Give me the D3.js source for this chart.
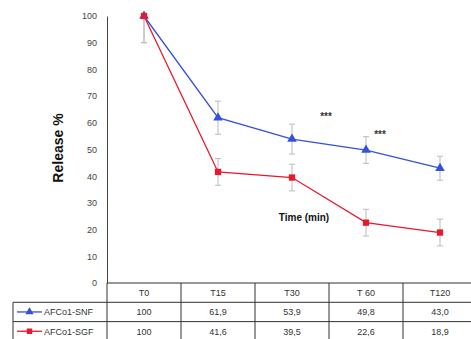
<!DOCTYPE html>
<html>
<head>
<meta charset="utf-8">
<script src="https://cdn.jsdelivr.net/npm/d3@7"></script>
<style>
  body { margin: 0; background: #fff; }
  svg { display: block; font-family: "Liberation Sans", Arial, sans-serif; }
</style>
</head>
<body>
<div id="container"></div>
<script>
// ---------------- data ----------------
const categories = ["T0", "T15", "T30", "T 60", "T120"];
const seriesNames = ["AFCo1-SNF", "AFCo1-SGF"];
const snfValues = [100, 61.9, 53.9, 49.8, 43.0];
const sgfValues = [100, 41.6, 39.5, 22.6, 18.9];
const snfErrors = [10, 6.2, 5.6, 5.0, 4.5];
const sgfErrors = [10, 5.0, 5.0, 5.0, 5.0];
const yTicks = [0, 10, 20, 30, 40, 50, 60, 70, 80, 90, 100];
const starLabels = [{ cat: "T30", at: 61, dx: 0.46 }, { cat: "T 60", at: 54.3, dx: 0.19 }];

const width = 471, height = 339;
const plotLeft = 107, plotTop = 16, plotBottom = 283, colW = 74;
const blue = "#3550dc", red = "#e8192c";

const svg = d3.select("#container").append("svg")
  .attr("width", width).attr("height", height);

// scales
const x = d3.scaleBand().domain(categories).range([plotLeft, plotLeft + colW * categories.length]).padding(0);
const y = d3.scaleLinear().domain([0, 100]).range([plotBottom, plotTop]);
const cx = c => x(c) + x.bandwidth() / 2;

// y axis
const yAxis = d3.axisLeft(y).tickValues(yTicks).tickSizeInner(0).tickSizeOuter(0).tickPadding(10);
const gy = svg.append("g").attr("transform", `translate(${plotLeft},0)`).call(yAxis);
gy.select(".domain").attr("stroke", "#444").attr("stroke-width", 1);
gy.selectAll("text").attr("font-size", 9).attr("fill", "#444").attr("font-family", "Liberation Sans, Arial, sans-serif");

// axis title
svg.append("text")
  .attr("transform", "translate(63,148) rotate(-90)")
  .attr("text-anchor", "middle")
  .attr("font-size", 14).attr("font-weight", "bold").attr("fill", "#111")
  .text("Release %");

// clip to plot area
svg.append("clipPath").attr("id", "plot")
  .append("rect").attr("x", plotLeft).attr("y", plotTop).attr("width", width - plotLeft).attr("height", plotBottom - plotTop);

const series = [
  { name: seriesNames[0], values: snfValues, err: snfErrors, color: blue, shape: d3.symbolTriangle },
  { name: seriesNames[1], values: sgfValues, err: sgfErrors, color: red, shape: d3.symbolSquare }
];

const plot = svg.append("g").attr("clip-path", "url(#plot)");

// error bars
series.forEach(s => {
  const g = plot.append("g").attr("stroke", "#bbb").attr("stroke-width", 1);
  categories.forEach((c, i) => {
    const xc = cx(c), hi = y(s.values[i] + s.err[i]), lo = y(s.values[i] - s.err[i]);
    g.append("line").attr("x1", xc).attr("x2", xc).attr("y1", hi).attr("y2", lo);
    g.append("line").attr("x1", xc - 3).attr("x2", xc + 3).attr("y1", hi).attr("y2", hi);
    g.append("line").attr("x1", xc - 3).attr("x2", xc + 3).attr("y1", lo).attr("y2", lo);
  });
});

// lines
const line = d3.line().x((d, i) => cx(categories[i])).y(d => y(d));
series.forEach(s => {
  svg.append("path").attr("d", line(s.values))
    .attr("fill", "none").attr("stroke", s.color).attr("stroke-width", 1.3);
});

// markers (red drawn last so it sits on top at T0)
series.forEach(s => {
  svg.append("g").selectAll("path").data(s.values).join("path")
    .attr("transform", (d, i) => `translate(${cx(categories[i])},${y(d)})`)
    .attr("d", d3.symbol(s.shape, 40))
    .attr("fill", s.color);
});

// significance stars
starLabels.forEach(st => {
  svg.append("text")
    .attr("x", cx(st.cat) + st.dx * colW).attr("y", y(st.at))
    .attr("text-anchor", "middle").attr("font-size", 10).attr("font-weight", "bold").attr("fill", "#333")
    .text("***");
});

// x axis title (inside plot)
svg.append("text")
  .attr("x", 304).attr("y", 221)
  .attr("text-anchor", "middle").attr("font-size", 10).attr("font-weight", "bold").attr("fill", "#111")
  .text("Time (min)");

// ---------------- data table ----------------
const rowH = 19.3;
const tbl = svg.append("g").attr("stroke", "#333").attr("stroke-width", 1);
const tableRight = plotLeft + colW * categories.length;
const rowsY = [plotBottom, plotBottom + rowH, plotBottom + 2 * rowH, plotBottom + 3 * rowH - 0.5];
const legendLeft = 13;

// horizontal lines
tbl.append("line").attr("x1", plotLeft).attr("x2", tableRight).attr("y1", rowsY[0]).attr("y2", rowsY[0]);
rowsY.slice(1).forEach(yy => {
  tbl.append("line").attr("x1", legendLeft).attr("x2", tableRight).attr("y1", yy).attr("y2", yy);
});
// vertical lines
categories.forEach(c => {
  tbl.append("line").attr("x1", x(c)).attr("x2", x(c)).attr("y1", rowsY[0]).attr("y2", rowsY[3]);
});
tbl.append("line").attr("x1", legendLeft).attr("x2", legendLeft).attr("y1", rowsY[1]).attr("y2", rowsY[3]);

const fmt = v => v === 100 ? "100" : d3.format(".1f")(v).replace(".", ",");

// header
categories.forEach(c => {
  svg.append("text").attr("x", cx(c)).attr("y", rowsY[0] + rowH / 2 + 3.5)
    .attr("text-anchor", "middle").attr("font-size", 9).attr("fill", "#333").text(c);
});

series.forEach((s, r) => {
  const yy = rowsY[r + 1] + rowH / 2;
  // legend swatch
  svg.append("line").attr("x1", 17).attr("x2", 42).attr("y1", yy).attr("y2", yy)
    .attr("stroke", s.color).attr("stroke-width", 1.3);
  svg.append("path").attr("transform", `translate(29.5,${yy})`)
    .attr("d", d3.symbol(s.shape, 30)).attr("fill", s.color);
  svg.append("text").attr("x", 44).attr("y", yy + 3.5)
    .attr("font-size", 9).attr("fill", "#333").text(s.name);
  s.values.forEach((v, i) => {
    svg.append("text").attr("x", cx(categories[i])).attr("y", yy + 3.5)
      .attr("text-anchor", "middle").attr("font-size", 9).attr("fill", "#333").text(fmt(v));
  });
});
</script>
</body>
</html>
